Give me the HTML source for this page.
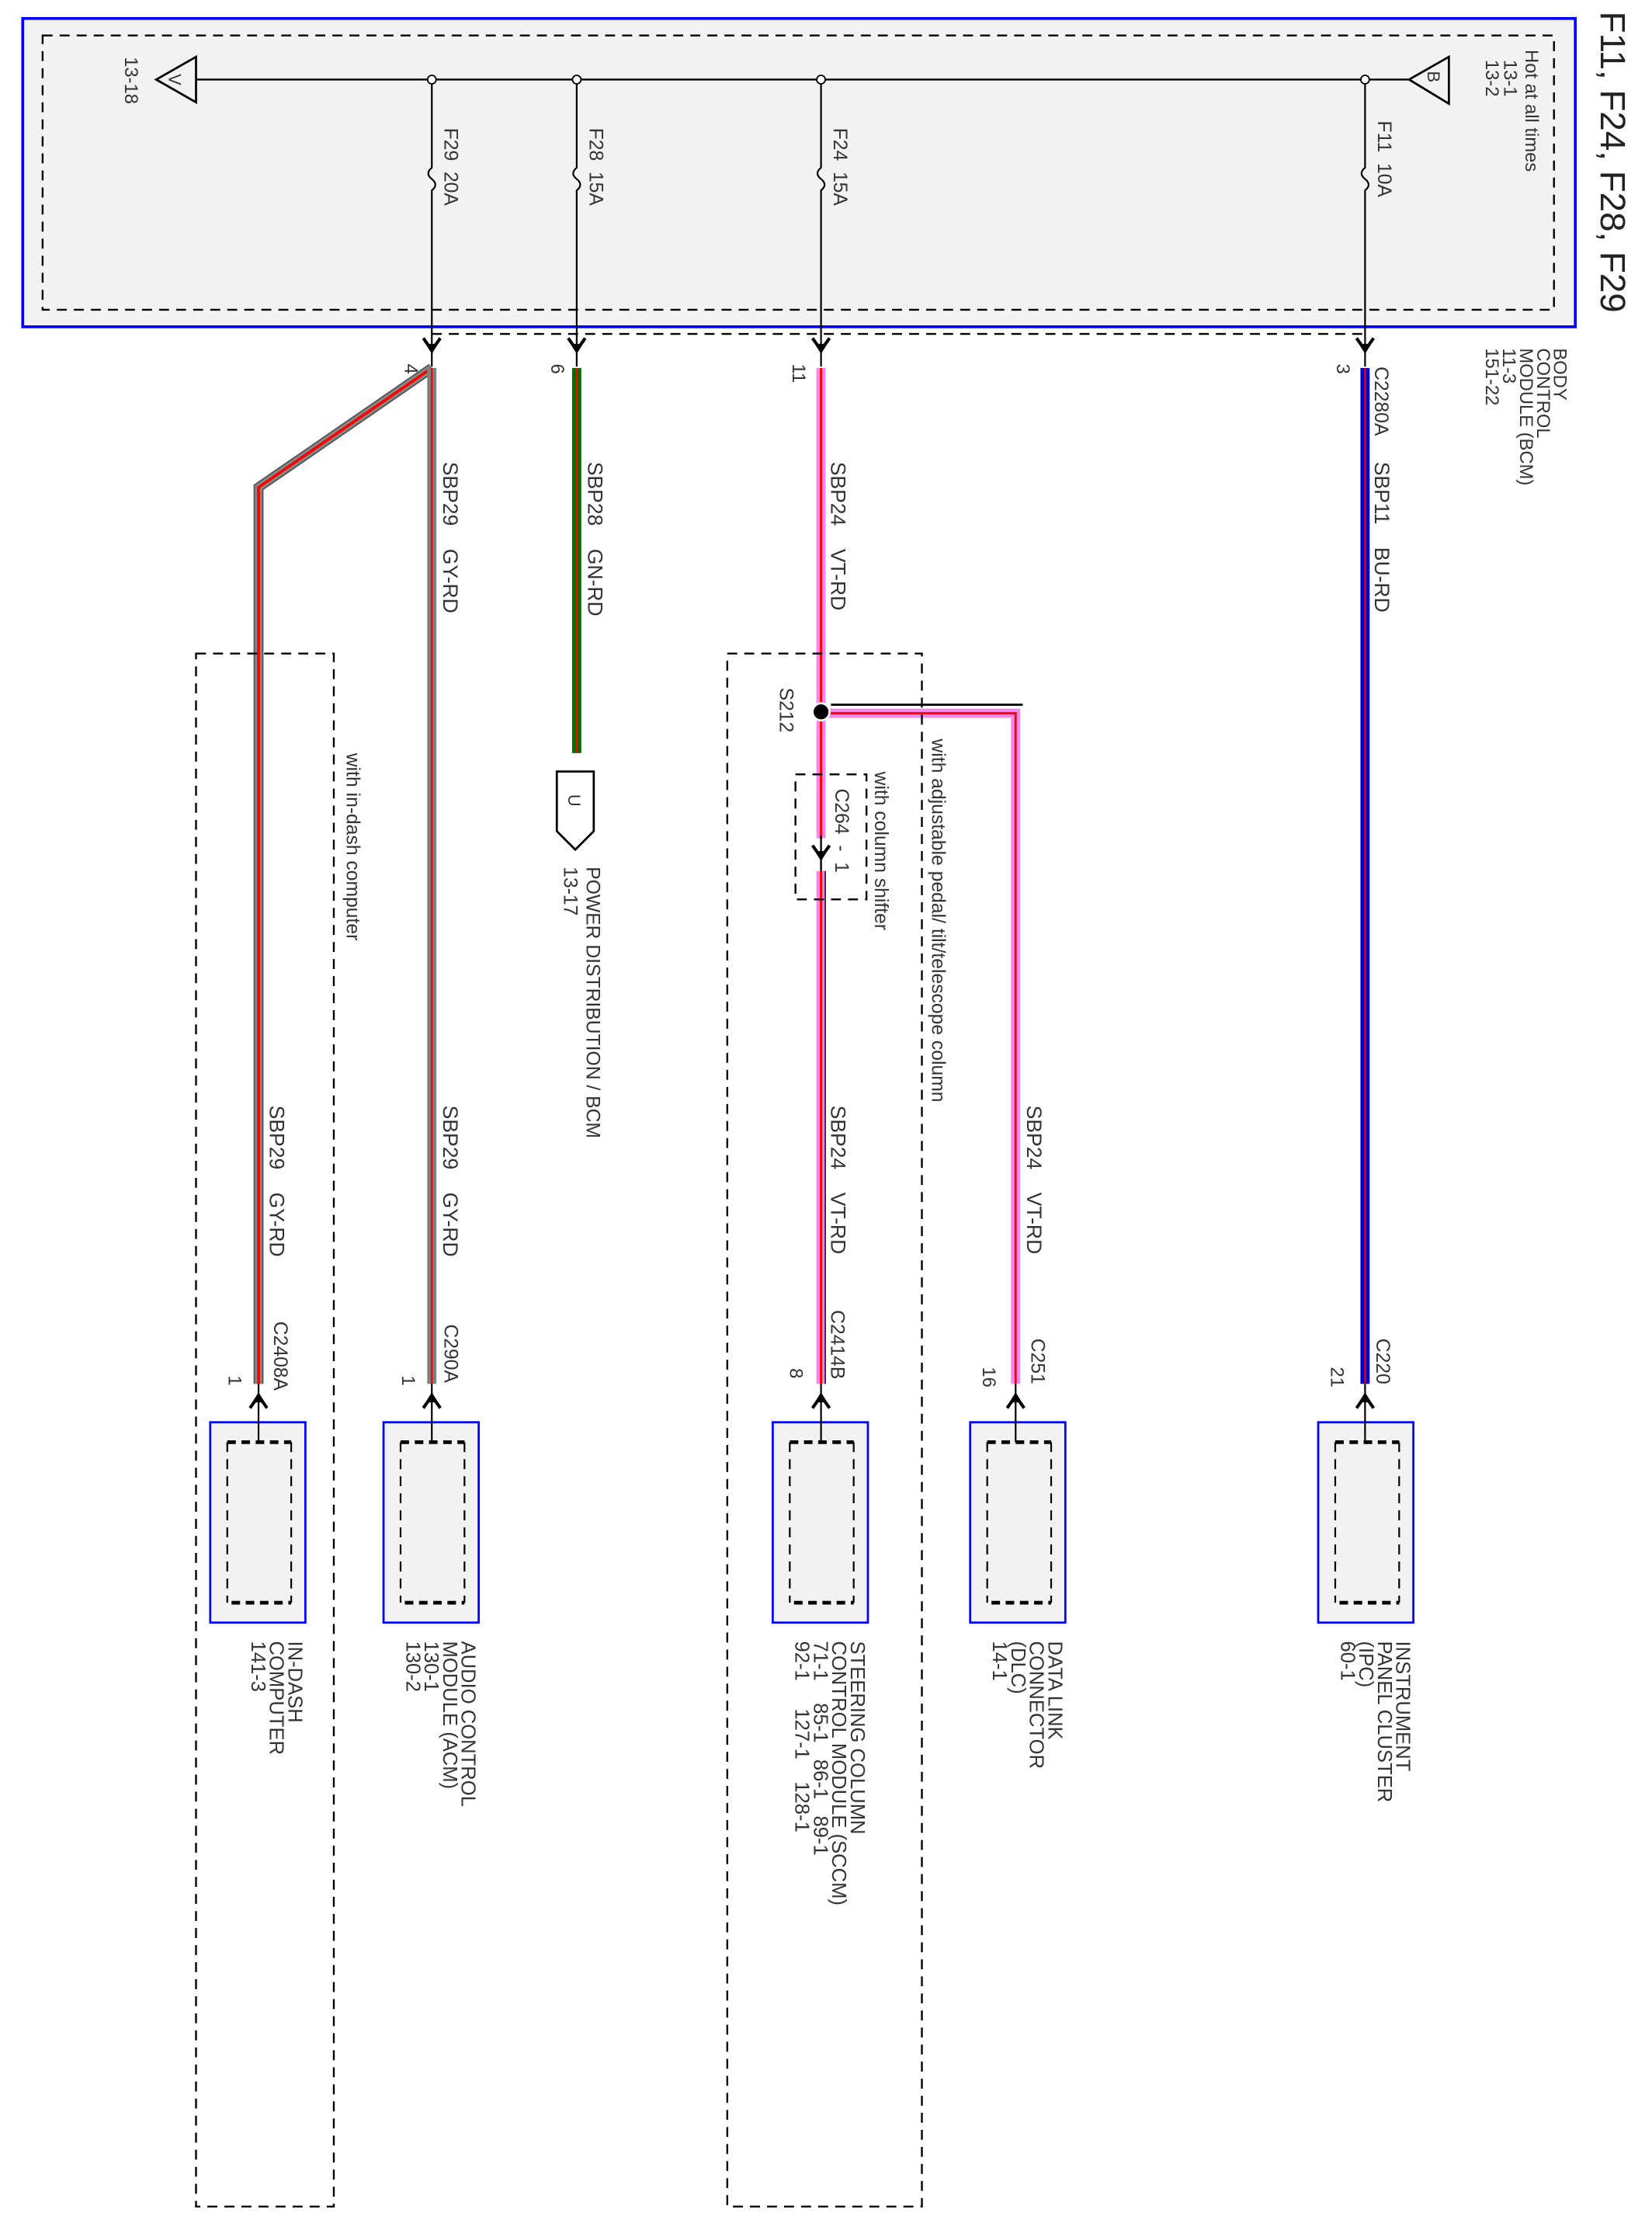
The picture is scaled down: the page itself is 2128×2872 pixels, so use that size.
<!DOCTYPE html>
<html><head><meta charset="utf-8"><style>
html,body{margin:0;padding:0;background:#fff}
svg{display:block}
text{font-family:"Liberation Sans",sans-serif;fill:#333;white-space:pre}
</style></head><body>
<svg width="2128" height="2872" viewBox="0 0 1163 1569.5" preserveAspectRatio="none" xmlns="http://www.w3.org/2000/svg" xml:space="preserve">
<defs>
<g id="adn"><path d="M-6,-5 Q-3,-1 0,4 Q3,-1 6,-5" fill="none" stroke="#000" stroke-width="2.2"/><path d="M-3,-1 L0,5 L3,-1 Z" fill="#000"/></g>
<g id="aup"><path d="M-6,5 Q-3,1 0,-4 Q3,1 6,5" fill="none" stroke="#000" stroke-width="2.2"/><path d="M-3,1 L0,-5 L3,1 Z" fill="#000"/></g>
<g id="inner">
<line x1="0" y1="0" x2="0" y2="113" stroke="#000" stroke-width="1.2" stroke-dasharray="7,5"/>
<line x1="45" y1="0" x2="45" y2="113" stroke="#000" stroke-width="1.2" stroke-dasharray="7,5"/>
<line x1="0" y1="0" x2="45" y2="0" stroke="#000" stroke-width="2.6" stroke-dasharray="6,4"/>
<line x1="3" y1="113" x2="45" y2="113" stroke="#000" stroke-width="2.6" stroke-dasharray="6,4"/>
</g>
</defs>
<!-- title -->
<text transform="translate(1127,8) rotate(90)" font-size="25" style="fill:#222">F11, F24, F28, F29</text>
<!-- BCM box -->
<rect x="16" y="13" width="1093" height="217" fill="#f2f2f2" stroke="#0000ff" stroke-width="2"/>
<rect x="30" y="25" width="1064" height="193" fill="none" stroke="#000" stroke-width="1.3" stroke-dasharray="7,5"/>
<line x1="304" y1="235" x2="961" y2="235" stroke="#000" stroke-width="1.3" stroke-dasharray="7,5"/>
<!-- bus -->
<line x1="138" y1="56" x2="993" y2="56" stroke="#000" stroke-width="1.3"/>
<path d="M138,40 L138,72 L110,56 Z" fill="none" stroke="#000" stroke-width="1.5"/>
<text transform="translate(119,52) rotate(90)" font-size="12">V</text>
<text transform="translate(88,40) rotate(90)" font-size="13">13-18</text>
<path d="M992,56 L1020,40 L1020,73 Z" fill="none" stroke="#000" stroke-width="1.5"/>
<text transform="translate(1005,50) rotate(90)" font-size="12">B</text>
<text transform="translate(1074,35) rotate(90)" font-size="13">Hot at all times</text>
<text transform="translate(1059,42) rotate(90)" font-size="13">13-1</text>
<text transform="translate(1046,42) rotate(90)" font-size="13">13-2</text>
<!-- fuses & drops -->
<g stroke="#000" stroke-width="1.2" fill="none">
<path d="M304,56 V118 q-5,4 0,8 q5,4 0,8 V240"/>
<path d="M406,56 V118 q-5,4 0,8 q5,4 0,8 V240"/>
<path d="M578,56 V118 q-5,4 0,8 q5,4 0,8 V240"/>
<path d="M961,56 V118 q-5,4 0,8 q5,4 0,8 V240"/>
</g>
<g fill="#fff" stroke="#000" stroke-width="1"><circle cx="304" cy="56" r="3"/><circle cx="406" cy="56" r="3"/><circle cx="578" cy="56" r="3"/><circle cx="961" cy="56" r="3"/></g>
<text transform="translate(313,90) rotate(90)" font-size="13.5">F29  20A</text>
<text transform="translate(415,90) rotate(90)" font-size="13.5">F28  15A</text>
<text transform="translate(587,90) rotate(90)" font-size="13.5">F24  15A</text>
<text transform="translate(970,85) rotate(90)" font-size="13.5">F11  10A</text>
<use href="#adn" x="304" y="243"/><use href="#adn" x="406" y="243"/><use href="#adn" x="578" y="243"/><use href="#adn" x="961" y="243"/>
<g stroke="#000" stroke-width="1.2"><line x1="304" y1="240" x2="304" y2="258"/><line x1="406" y1="240" x2="406" y2="258"/><line x1="578" y1="240" x2="578" y2="258"/><line x1="961" y1="240" x2="961" y2="258"/></g>
<text transform="translate(1094,245) rotate(90)" font-size="13">BODY</text>
<text transform="translate(1082,245) rotate(90)" font-size="13">CONTROL</text>
<text transform="translate(1070,245) rotate(90)" font-size="13">MODULE (BCM)</text>
<text transform="translate(1058,245) rotate(90)" font-size="13">11-3</text>
<text transform="translate(1046,245) rotate(90)" font-size="13">151-22</text>
<text transform="translate(285,256) rotate(90)" font-size="13">4</text>
<text transform="translate(388,256) rotate(90)" font-size="13">6</text>
<text transform="translate(558,256) rotate(90)" font-size="13">11</text>
<text transform="translate(941,256) rotate(90)" font-size="13">3</text>
<text transform="translate(968,258) rotate(90)" font-size="13.5">C2280A</text>
<!-- wires -->
<g fill="none" stroke-linejoin="miter">
<path d="M304,259 L182,343 V974" stroke="#555" stroke-width="7"/>
<path d="M304,259 L182,343 V974" stroke="#888" stroke-width="5"/>
<path d="M304,259 L182,343 V974" stroke="#ff0000" stroke-width="2"/>
<path d="M304,259 V974" stroke="#808080" stroke-width="6.5"/>
<path d="M304,259 V974" stroke="#ff0000" stroke-width="1.3"/>
<path d="M406,259 V530" stroke="#007000" stroke-width="6.5"/>
<path d="M406,259 V530" stroke="#ff0000" stroke-width="1.5"/>
<path d="M578,259 V590 M578,613 V974" stroke="#f288ec" stroke-width="6.5"/>
<path d="M578,259 V590 M578,613 V974" stroke="#ff0000" stroke-width="1.6"/>
<path d="M581,613 V974" stroke="#000" stroke-width="0.8"/>
<path d="M583,502 H715 V974" stroke="#f288ec" stroke-width="6.5"/>
<path d="M583,502 H715 V974" stroke="#ff0000" stroke-width="1.6"/>
<path d="M585,496 H720" stroke="#000" stroke-width="1.5"/>
<path d="M961,259 V974" stroke="#0000d0" stroke-width="6.5"/>
<path d="M961,259 V974" stroke="#ff0000" stroke-width="1"/>
</g>
<circle cx="578" cy="501" r="6" fill="#000" stroke="#fff" stroke-width="1.5"/>
<!-- labels mid -->
<text transform="translate(312,325) rotate(90)" font-size="14.5">SBP29    GY-RD</text>
<text transform="translate(414,325) rotate(90)" font-size="14.5">SBP28    GN-RD</text>
<text transform="translate(585,325) rotate(90)" font-size="14.5">SBP24    VT-RD</text>
<text transform="translate(968,325) rotate(90)" font-size="14.5">SBP11    BU-RD</text>
<text transform="translate(190,778) rotate(90)" font-size="14.5">SBP29    GY-RD</text>
<text transform="translate(312,778) rotate(90)" font-size="14.5">SBP29    GY-RD</text>
<text transform="translate(585,778) rotate(90)" font-size="14.5">SBP24    VT-RD</text>
<text transform="translate(723,778) rotate(90)" font-size="14.5">SBP24    VT-RD</text>
<!-- U connector -->
<path d="M392,543 H418 V585 L405,598 L392,585 Z" fill="#fff" stroke="#000" stroke-width="1.5"/>
<text transform="translate(400,559) rotate(90)" font-size="12">U</text>
<text transform="translate(397,610) rotate(90)" font-size="13.5">13-17</text>
<text transform="translate(413,610) rotate(90)" font-size="13.5">POWER DISTRIBUTION / BCM</text>
<!-- dashed regions -->
<g fill="none" stroke="#000" stroke-width="1.3" stroke-dasharray="7,5">
<rect x="138" y="460" width="97" height="1093"/>
<rect x="512" y="460" width="137" height="1093"/>
<rect x="560" y="545" width="50" height="88"/>
</g>
<text transform="translate(244,530) rotate(90)" font-size="13.5">with in-dash computer</text>
<text transform="translate(656,520) rotate(90)" font-size="13.5">with adjustable pedal/ tilt/telescope column</text>
<text transform="translate(616,543) rotate(90)" font-size="13.5">with column shifter</text>
<text transform="translate(588,555) rotate(90)" font-size="13.5">C264  -  1</text>
<text transform="translate(549,484) rotate(90)" font-size="13.5">S212</text>
<line x1="578" y1="588" x2="578" y2="613" stroke="#000" stroke-width="1.3"/>
<use href="#adn" x="578" y="600"/>
<!-- connector labels -->
<text transform="translate(193,930) rotate(90)" font-size="13.5">C2408A</text>
<text transform="translate(161,968) rotate(90)" font-size="13">1</text>
<text transform="translate(313,932) rotate(90)" font-size="13.5">C290A</text>
<text transform="translate(283,968) rotate(90)" font-size="13">1</text>
<text transform="translate(585,922) rotate(90)" font-size="13.5">C2414B</text>
<text transform="translate(556,963) rotate(90)" font-size="13">8</text>
<text transform="translate(726,942) rotate(90)" font-size="13.5">C251</text>
<text transform="translate(692,962) rotate(90)" font-size="13">16</text>
<text transform="translate(969,942) rotate(90)" font-size="13.5">C220</text>
<text transform="translate(937,962) rotate(90)" font-size="13">21</text>
<!-- components -->
<g fill="#f2f2f2" stroke="#0000ff" stroke-width="1.5">
<rect x="148" y="1001" width="67" height="141"/>
<rect x="270" y="1001" width="67" height="141"/>
<rect x="544" y="1001" width="67" height="141"/>
<rect x="683" y="1001" width="67" height="141"/>
<rect x="928" y="1001" width="67" height="141"/>
</g>
<g stroke="#000" stroke-width="1.2"><line x1="182" y1="974" x2="182" y2="1015"/><line x1="304" y1="974" x2="304" y2="1015"/><line x1="578" y1="974" x2="578" y2="1015"/><line x1="715" y1="974" x2="715" y2="1015"/><line x1="961" y1="974" x2="961" y2="1015"/></g>
<use href="#aup" x="182" y="986"/><use href="#aup" x="304" y="986"/><use href="#aup" x="578" y="986"/><use href="#aup" x="715" y="986"/><use href="#aup" x="961" y="986"/>
<use href="#inner" x="160" y="1015"/>
<use href="#inner" x="282" y="1015"/>
<use href="#inner" x="556" y="1015"/>
<use href="#inner" x="695" y="1015"/>
<use href="#inner" x="940" y="1015"/>
<!-- component labels -->
<g font-size="14">
<text transform="translate(203,1155) rotate(90)">IN-DASH</text>
<text transform="translate(190,1155) rotate(90)">COMPUTER</text>
<text transform="translate(177,1155) rotate(90)">141-3</text>
<text transform="translate(325,1155) rotate(90)">AUDIO CONTROL</text>
<text transform="translate(312,1155) rotate(90)">MODULE (ACM)</text>
<text transform="translate(299,1155) rotate(90)">130-1</text>
<text transform="translate(286,1155) rotate(90)">130-2</text>
<text transform="translate(599,1155) rotate(90)">STEERING COLUMN</text>
<text transform="translate(586,1155) rotate(90)">CONTROL MODULE (SCCM)</text>
<text transform="translate(573,1155) rotate(90)">71-1    85-1   86-1   89-1</text>
<text transform="translate(560,1155) rotate(90)">92-1     127-1    128-1</text>
<text transform="translate(738,1155) rotate(90)">DATA LINK</text>
<text transform="translate(725,1155) rotate(90)">CONNECTOR</text>
<text transform="translate(712,1155) rotate(90)">(DLC)</text>
<text transform="translate(699,1155) rotate(90)">14-1</text>
<text transform="translate(983,1155) rotate(90)">INSTRUMENT</text>
<text transform="translate(970,1155) rotate(90)">PANEL CLUSTER</text>
<text transform="translate(957,1155) rotate(90)">(IPC)</text>
<text transform="translate(944,1155) rotate(90)">60-1</text>
</g>
</svg>
</body></html>
